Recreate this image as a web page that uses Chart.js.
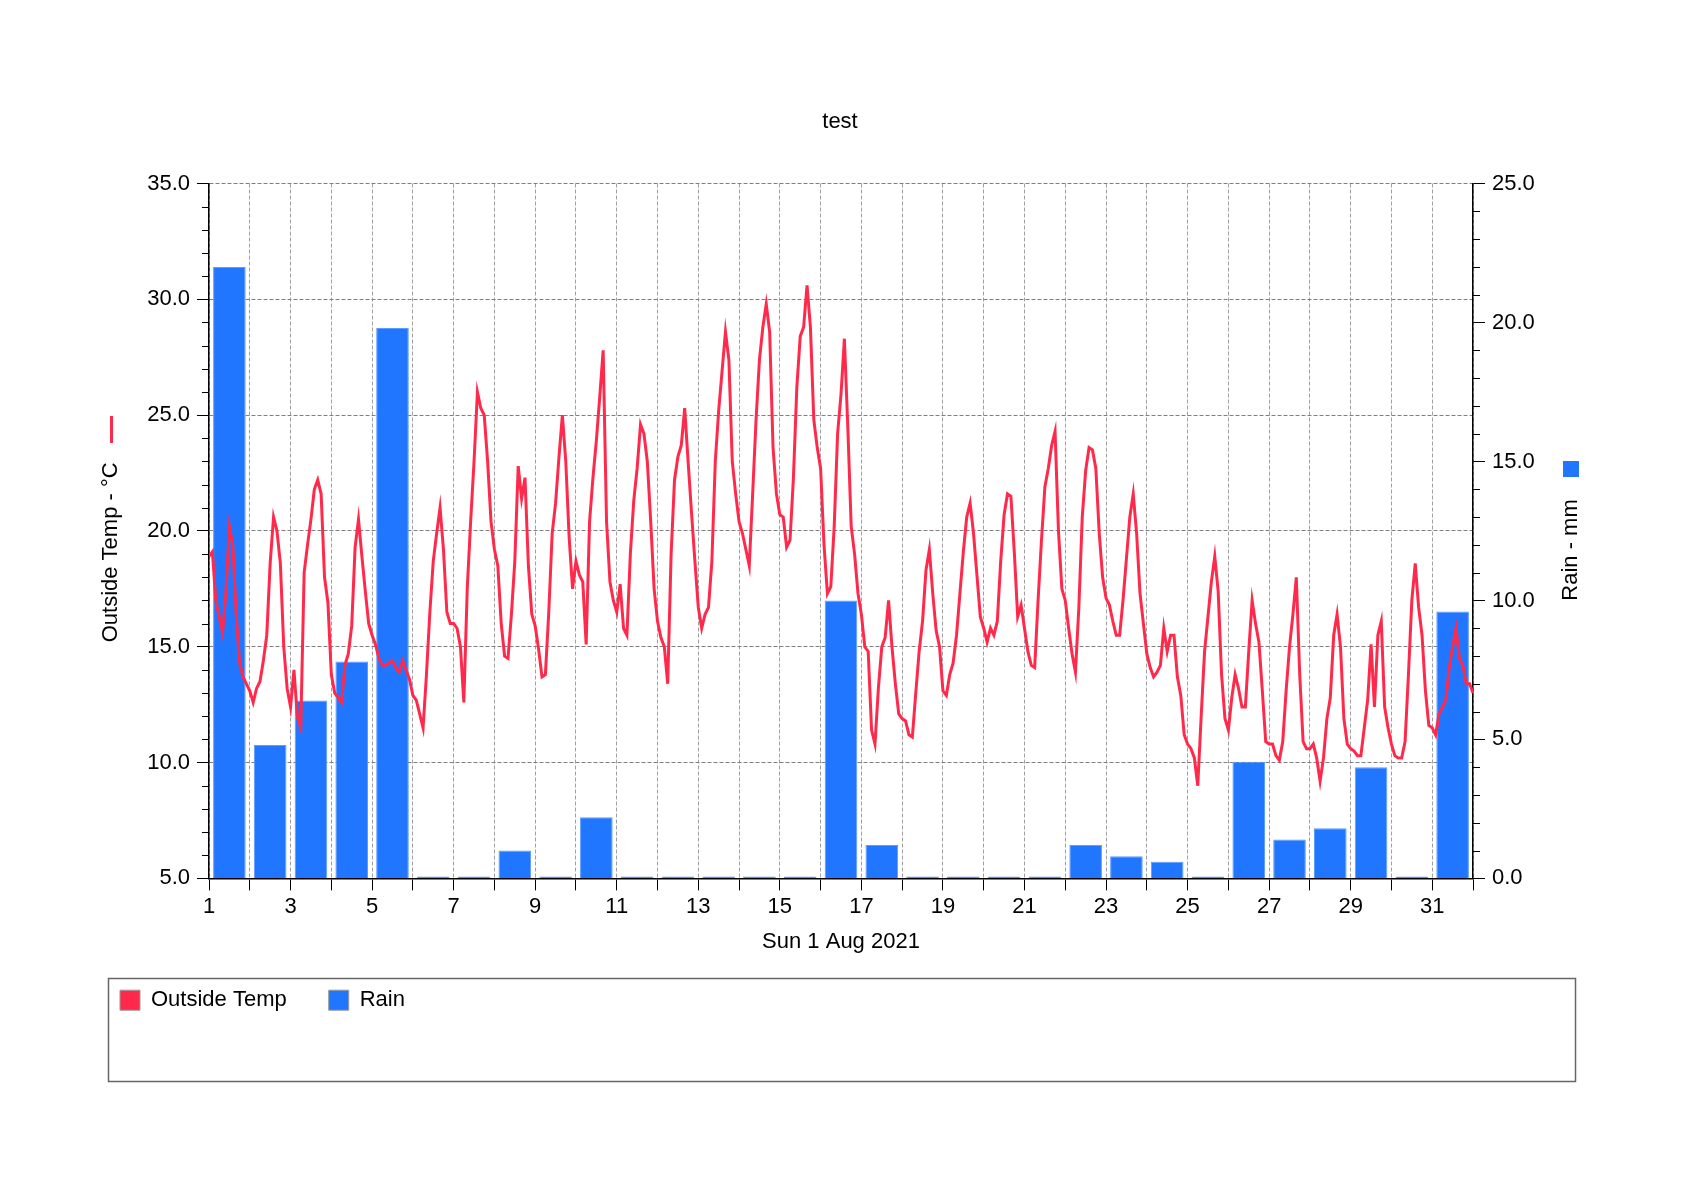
<!DOCTYPE html>
<html>
<head>
<meta charset="utf-8">
<title>test</title>
<script src="https://cdn.jsdelivr.net/npm/chart.js@4.4.1/dist/chart.umd.min.js"></script>
<style>
  html, body { margin: 0; padding: 0; background: #fff; }
  canvas { display: block; }
</style>
</head>
<body>
<canvas id="chart" width="1683" height="1190"></canvas>
<script>
// Rain per day, mm (1 .. 31 Aug)
const rainDays = [1, 2, 3, 4, 5, 6, 7, 8, 9, 10, 11, 12, 13, 14, 15, 16,
  17, 18, 19, 20, 21, 22, 23, 24, 25, 26, 27, 28, 29, 30, 31];
const rainMm = [22.0, 4.8, 6.4, 7.8, 19.8, 0, 0, 1.0, 0, 2.2, 0, 0, 0, 0, 0, 10.0,
  1.2, 0, 0, 0, 0, 1.2, 0.8, 0.6, 0, 4.2, 1.4, 1.8, 4.0, 0, 9.6];

// Outside temp every 2 hours, one row per day (00h .. 22h), last value = 1 Sep 00h
const outsideTemp = [
  18.9, 19.1, 17.0, 16.3, 15.6, 17.4, 20.2, 19.4, 16.4, 14.3, 13.7, 13.4,
  13.1, 12.6, 13.2, 13.5, 14.4, 15.5, 18.6, 20.6, 20.0, 18.6, 15.0, 13.2,
  12.4, 14.0, 12.0, 11.5, 18.2, 19.4, 20.5, 21.8, 22.2, 21.6, 18.0, 16.9,
  13.8, 13.0, 12.8, 12.6, 14.2, 14.7, 15.9, 19.3, 20.5, 18.9, 17.4, 16.0,
  15.5, 15.1, 14.5, 14.2, 14.2, 14.3, 14.4, 14.1, 13.9, 14.4, 14.0, 13.6,
  12.9, 12.7, 12.1, 11.5, 13.8, 16.5, 18.7, 19.9, 21.0, 19.2, 16.5, 16.0,
  16.0, 15.8, 15.0, 12.6, 17.5, 20.4, 23.0, 26.0, 25.3, 25.0, 23.0, 20.4,
  19.2, 18.5, 16.0, 14.6, 14.5, 16.4, 18.7, 22.8, 21.4, 22.3, 18.5, 16.4,
  15.9, 14.9, 13.7, 13.8, 16.5, 19.9, 21.2, 23.2, 25.0, 23.0, 19.7, 17.5,
  18.7, 18.1, 17.8, 15.1, 20.4, 22.3, 23.9, 25.8, 27.8, 20.4, 17.8, 17.0,
  16.5, 17.7, 15.8, 15.5, 19.0, 21.3, 22.7, 24.6, 24.2, 23.0, 20.4, 17.5,
  16.1, 15.4, 15.0, 13.4, 19.0, 22.2, 23.2, 23.7, 25.3, 23.0, 20.8, 18.7,
  16.7, 15.8, 16.4, 16.7, 18.7, 23.0, 25.2, 26.9, 28.6, 27.4, 23.0, 21.6,
  20.4, 19.9, 19.2, 18.5, 21.6, 24.8, 27.4, 28.8, 29.8, 28.6, 23.6, 21.6,
  20.7, 20.6, 19.3, 19.6, 22.3, 26.2, 28.4, 28.8, 30.6, 28.8, 24.8, 23.6,
  22.7, 19.4, 17.3, 17.6, 20.2, 24.2, 25.9, 28.3, 24.5, 20.2, 19.0, 17.3,
  16.4, 15.0, 14.8, 11.4, 10.8, 13.2, 15.0, 15.4, 17.0, 15.0, 13.4, 12.1,
  11.9, 11.8, 11.2, 11.1, 13.0, 14.8, 16.1, 18.3, 19.2, 17.3, 15.7, 15.0,
  13.1, 12.9, 13.8, 14.3, 15.5, 17.3, 19.1, 20.6, 21.2, 19.9, 18.1, 16.3,
  15.8, 15.2, 15.8, 15.5, 16.1, 18.7, 20.7, 21.6, 21.5, 19.1, 16.3, 16.8,
  15.8, 14.8, 14.2, 14.1, 17.0, 19.6, 21.9, 22.7, 23.7, 24.3, 20.0, 17.5,
  17.0, 15.8, 14.7, 13.9, 16.7, 20.6, 22.6, 23.6, 23.5, 22.7, 19.9, 18.0,
  17.1, 16.8, 16.1, 15.5, 15.5, 17.0, 18.8, 20.6, 21.6, 19.9, 17.3, 16.0,
  14.7, 14.1, 13.7, 13.9, 14.2, 15.8, 14.8, 15.5, 15.5, 13.7, 12.9, 11.2,
  10.8, 10.6, 10.2, 9.0, 12.0, 14.8, 16.3, 17.8, 18.9, 17.4, 13.8, 11.9,
  11.4, 12.8, 13.8, 13.2, 12.4, 12.4, 14.8, 17.0, 16.0, 15.2, 13.1, 10.9,
  10.8, 10.8, 10.3, 10.1, 10.9, 13.1, 15.0, 16.4, 18.0, 13.8, 10.9, 10.6,
  10.6, 10.8, 10.2, 9.2, 10.2, 11.9, 12.8, 15.5, 16.4, 15.0, 11.9, 10.8,
  10.6, 10.5, 10.3, 10.3, 11.5, 12.7, 15.1, 12.4, 15.5, 16.1, 12.4, 11.5,
  10.8, 10.3, 10.2, 10.2, 10.9, 13.8, 17.0, 18.6, 16.7, 15.5, 13.1, 11.6,
  11.5, 11.2, 12.1, 12.4, 12.7, 14.1, 15.0, 15.8, 14.5, 14.2, 13.4, 13.4,
  13.0
];
const samplesPerDay = 12;

const tempColor = '#ff2a4b';
const rainColor = '#2176ff';
const rainAxisTitle = 'Rain - mm';

const tempPoints = outsideTemp.map((t, i) => ({ x: 1 + i / samplesPerDay, y: t }));
const rainPoints = rainDays.map((d, i) => ({ x: d + 0.5, y: rainMm[i] }));

Chart.defaults.font.family = '"Liberation Sans", Arial, sans-serif';
Chart.defaults.font.size = 22;
Chart.defaults.color = '#000';

// minor ticks, axis-title markers, right axis title (reads upward) and the legend frame
const extras = {
  id: 'extras',
  afterDraw(chart) {
    const ctx = chart.ctx;
    const y = chart.scales.y, y2 = chart.scales.y2;
    ctx.save();
    ctx.strokeStyle = '#000';
    ctx.lineWidth = 1;
    ctx.beginPath();
    for (let v = 5; v <= 35; v++) {
      if (v % 5 === 0) continue;
      const p = Math.round(y.getPixelForValue(v)) + 0.5;
      ctx.moveTo(y.right - 7, p);
      ctx.lineTo(y.right, p);
    }
    for (let v = 0; v <= 25; v++) {
      if (v % 5 === 0) continue;
      const p = Math.round(y2.getPixelForValue(v)) + 0.5;
      ctx.moveTo(y2.left, p);
      ctx.lineTo(y2.left + 7, p);
    }
    ctx.stroke();

    ctx.strokeStyle = tempColor;
    ctx.lineWidth = 3;
    ctx.beginPath();
    ctx.moveTo(111.5, 416);
    ctx.lineTo(111.5, 443);
    ctx.stroke();
    ctx.fillStyle = rainColor;
    ctx.fillRect(1563, 461, 16, 16);

    ctx.translate(1571, 550);
    ctx.rotate(-Math.PI / 2);
    ctx.fillStyle = '#000';
    ctx.font = '22px "Liberation Sans", Arial, sans-serif';
    ctx.textAlign = 'center';
    ctx.textBaseline = 'middle';
    ctx.fillText(rainAxisTitle, 0, 0);
    ctx.setTransform(1, 0, 0, 1, 0, 0);

    ctx.strokeStyle = '#666';
    ctx.lineWidth = 1.5;
    ctx.strokeRect(108.5, 978.5, 1467, 103);
    ctx.restore();
  }
};

new Chart(document.getElementById('chart'), {
  type: 'line',
  data: {
    datasets: [
      {
        label: 'Outside Temp',
        data: tempPoints,
        yAxisID: 'y',
        borderColor: tempColor,
        backgroundColor: tempColor,
        borderWidth: 3,
        pointRadius: 0,
        tension: 0,
        order: 0
      },
      {
        type: 'bar',
        label: 'Rain',
        data: rainPoints,
        yAxisID: 'y2',
        backgroundColor: rainColor,
        borderColor: '#5c9bff',
        borderWidth: 1,
        barPercentage: 0.8,
        categoryPercentage: 1,
        minBarLength: 2,
        order: 1
      }
    ]
  },
  options: {
    responsive: false,
    animation: false,
    devicePixelRatio: 1,
    layout: { padding: { left: 78, right: 81, top: 108.8, bottom: 168.8 } },
    plugins: {
      title: {
        display: true,
        text: 'test',
        font: { size: 22, weight: 'normal' },
        color: '#000',
        padding: { top: 0, bottom: 48.3 }
      },
      legend: {
        position: 'bottom',
        align: 'start',
        labels: {
          boxWidth: 20,
          boxHeight: 20,
          padding: 42,
          font: { size: 22 },
          color: '#000',
          generateLabels: (chart) => chart.data.datasets.map((ds, i) => ({
            text: ds.label,
            fillStyle: ds.backgroundColor,
            strokeStyle: '#999',
            lineWidth: 1,
            hidden: false,
            datasetIndex: i
          }))
        }
      },
      tooltip: { enabled: false }
    },
    scales: {
      x: {
        type: 'linear',
        min: 1,
        max: 32,
        offset: false,
        ticks: {
          stepSize: 1,
          autoSkip: false,
          maxRotation: 0,
          padding: 3,
          callback: (v) => (v % 2 === 1 ? String(v) : '')
        },
        grid: { color: '#a0a0a0', lineWidth: 1, tickColor: '#000', tickLength: 12, offset: false },
        border: { color: '#000', width: 1.5, dash: [4, 2] },
        title: {
          display: true,
          text: 'Sun 1 Aug 2021',
          padding: { top: 6.4, bottom: -8.4 }
        }
      },
      y: {
        position: 'left',
        min: 5,
        max: 35,
        ticks: { stepSize: 5, padding: 7, callback: (v) => v.toFixed(1) },
        grid: { color: '#808080', lineWidth: 1, tickColor: '#000', tickLength: 12 },
        border: { color: '#000', width: 1.5, dash: [4, 2] },
        title: {
          display: true,
          text: 'Outside Temp - °C       ',
          padding: { top: 19.3, bottom: 0 }
        },
        afterFit: (s) => { s.width = 131; }
      },
      y2: {
        position: 'right',
        min: 0,
        max: 25,
        ticks: { stepSize: 5, padding: 7, callback: (v) => v.toFixed(1) },
        grid: { drawOnChartArea: false, tickColor: '#000', tickLength: 12 },
        border: { color: '#000', width: 1.5 },
        title: { display: false },
        afterFit: (s) => { s.width = 129; }
      }
    }
  },
  plugins: [extras]
});
</script>
</body>
</html>
